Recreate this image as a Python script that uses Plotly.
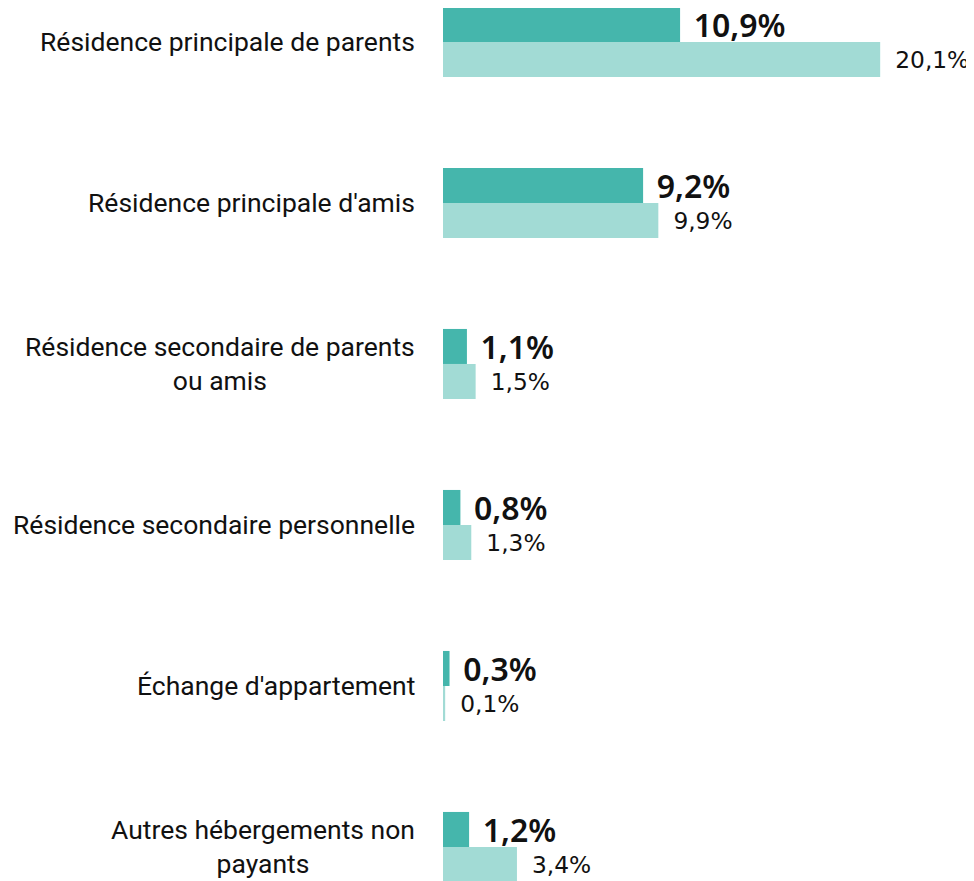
import plotly.graph_objects as go

categories = [
    "Résidence principale de parents",
    "Résidence principale d'amis",
    "Résidence secondaire de parents<br>ou amis",
    "Résidence secondaire personnelle",
    "Échange d'appartement",
    "Autres hébergements non<br>payants",
]
series_dark = [10.9, 9.2, 1.1, 0.8, 0.3, 1.2]
series_light = [20.1, 9.9, 1.5, 1.3, 0.1, 3.4]

def fmt(v):
    return f"{v:.1f}".replace(".", ",") + "%"

FONT = "Roboto"
VFONT = "DejaVu Sans"
DARK = "#45B6AC"
LIGHT = "#A2DBD5"

fig = go.Figure()
fig.add_trace(go.Bar(
    y=list(range(len(categories))), x=series_dark, orientation="h",
    marker=dict(color=DARK, line=dict(width=0)),
    text=["\u2009\u2009" + fmt(v) for v in series_dark], textposition="outside",
    textfont=dict(family="Noto Sans", size=32, color="#111111", weight=600),
    constraintext="none",
    cliponaxis=False, name="dark",
))
fig.add_trace(go.Bar(
    y=list(range(len(categories))), x=series_light, orientation="h",
    marker=dict(color=LIGHT, line=dict(width=0)),
    text=[" \u2009" + fmt(v) for v in series_light], textposition="outside",
    textfont=dict(family=VFONT, size=23.3, color="#111111"),
    constraintext="none",
    cliponaxis=False, name="light",
))

for i, c in enumerate(categories):
    fig.add_annotation(
        x=0, xref="x", xanchor="right", xshift=-26,
        y=i, yref="y", yanchor="middle",
        text=c, align="center", showarrow=False,
        font=dict(family=FONT, size=26.5, color="#111111"),
    )

fig.update_layout(
    width=974, height=881,
    margin=dict(l=435, r=17, t=0, b=0),
    paper_bgcolor="white", plot_bgcolor="white",
    barmode="group", bargap=0.565, bargroupgap=0,
    showlegend=False,
    uniformtext=dict(mode=False),
    xaxis=dict(range=[0, 24], visible=False, fixedrange=True),
    yaxis=dict(range=[5.261, -0.211], visible=False, fixedrange=True),
)
fig.write_html("out.html")
